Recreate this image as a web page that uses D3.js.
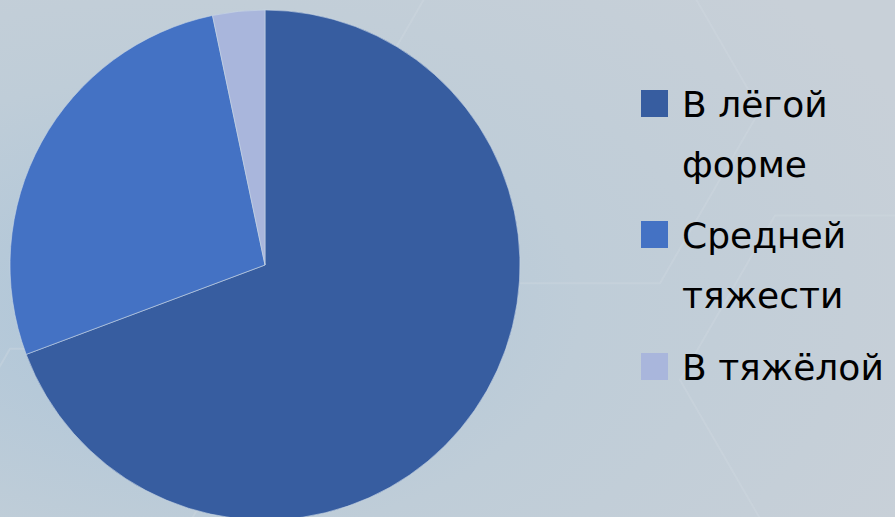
<!DOCTYPE html>
<html>
<head>
<meta charset="utf-8">
<script src="https://cdn.jsdelivr.net/npm/d3@7"></script>
<style>
  html, body { margin: 0; padding: 0; overflow: hidden; }
  svg { display: block; }
</style>
</head>
<body>
<script>
const W = 895
const H = 517

// data
const categories = ['В лёгой форме', 'Средней тяжести', 'В тяжёлой']
const legendLines = [['В лёгой', 'форме'], ['Средней', 'тяжести'], ['В тяжёлой']]
const values = [69.3, 27.4, 3.3]
const colors = ['#375DA0', '#4472C4', '#A9B6DC']

const svg = d3.select('body').append('svg')
  .attr('width', W)
  .attr('height', H)

// background
const defs = svg.append('defs')
const bg = defs.append('radialGradient')
  .attr('id', 'bg')
  .attr('cx', '0.2').attr('cy', '0.6').attr('r', '0.9')
bg.append('stop').attr('offset', '0%').attr('stop-color', '#ADC5D9')
bg.append('stop').attr('offset', '50%').attr('stop-color', '#BFCDD8')
bg.append('stop').attr('offset', '100%').attr('stop-color', '#C8D0D8')

svg.append('rect')
  .attr('width', W)
  .attr('height', H)
  .attr('fill', 'url(#bg)')

// faint hexagon outlines in the background
const hex = (cx, cy, r) => d3.range(6).map(i => {
  const a = Math.PI / 3 * i
  return [cx + r * Math.cos(a), cy + r * Math.sin(a)]
})
const hexes = [[560, 110, 200], [870, 380, 190], [80, 470, 140]]
svg.selectAll('.hex')
  .data(hexes)
  .join('path')
    .attr('class', 'hex')
    .attr('d', d => d3.line()(hex(d[0], d[1], d[2])) + 'Z')
    .attr('fill', 'none')
    .attr('stroke', '#D2DAE2')
    .attr('stroke-width', 2)
    .attr('opacity', 0.35)

// pie
const cx = 265
const cy = 265
const radius = 255

const pie = d3.pie().sort(null).value(d => d)
const arc = d3.arc().innerRadius(0).outerRadius(radius)

svg.append('g')
  .attr('transform', `translate(${cx}, ${cy})`)
  .selectAll('path')
  .data(pie(values))
  .join('path')
    .attr('d', arc)
    .attr('fill', (d, i) => colors[i])
    .attr('stroke', '#C9D6E6')
    .attr('stroke-width', 0.6)

// legend
const itemTops = [117, 248, 380]
const lineGap = 60
const legend = svg.append('g')
  .style('font-family', '"DejaVu Sans", sans-serif')
  .style('font-size', '36px')

const item = legend.selectAll('.item')
  .data(categories)
  .join('g')
    .attr('class', 'item')
    .attr('transform', (d, i) => `translate(641, ${itemTops[i]})`)

item.append('rect')
  .attr('x', 0)
  .attr('y', -27)
  .attr('width', 27)
  .attr('height', 27)
  .attr('fill', (d, i) => colors[i])

item.each(function (d, i) {
  d3.select(this).selectAll('text')
    .data(legendLines[i])
    .join('text')
      .attr('x', 41)
      .attr('y', (t, j) => j * lineGap)
      .attr('fill', '#000')
      .text(t => t)
})
</script>
</body>
</html>
